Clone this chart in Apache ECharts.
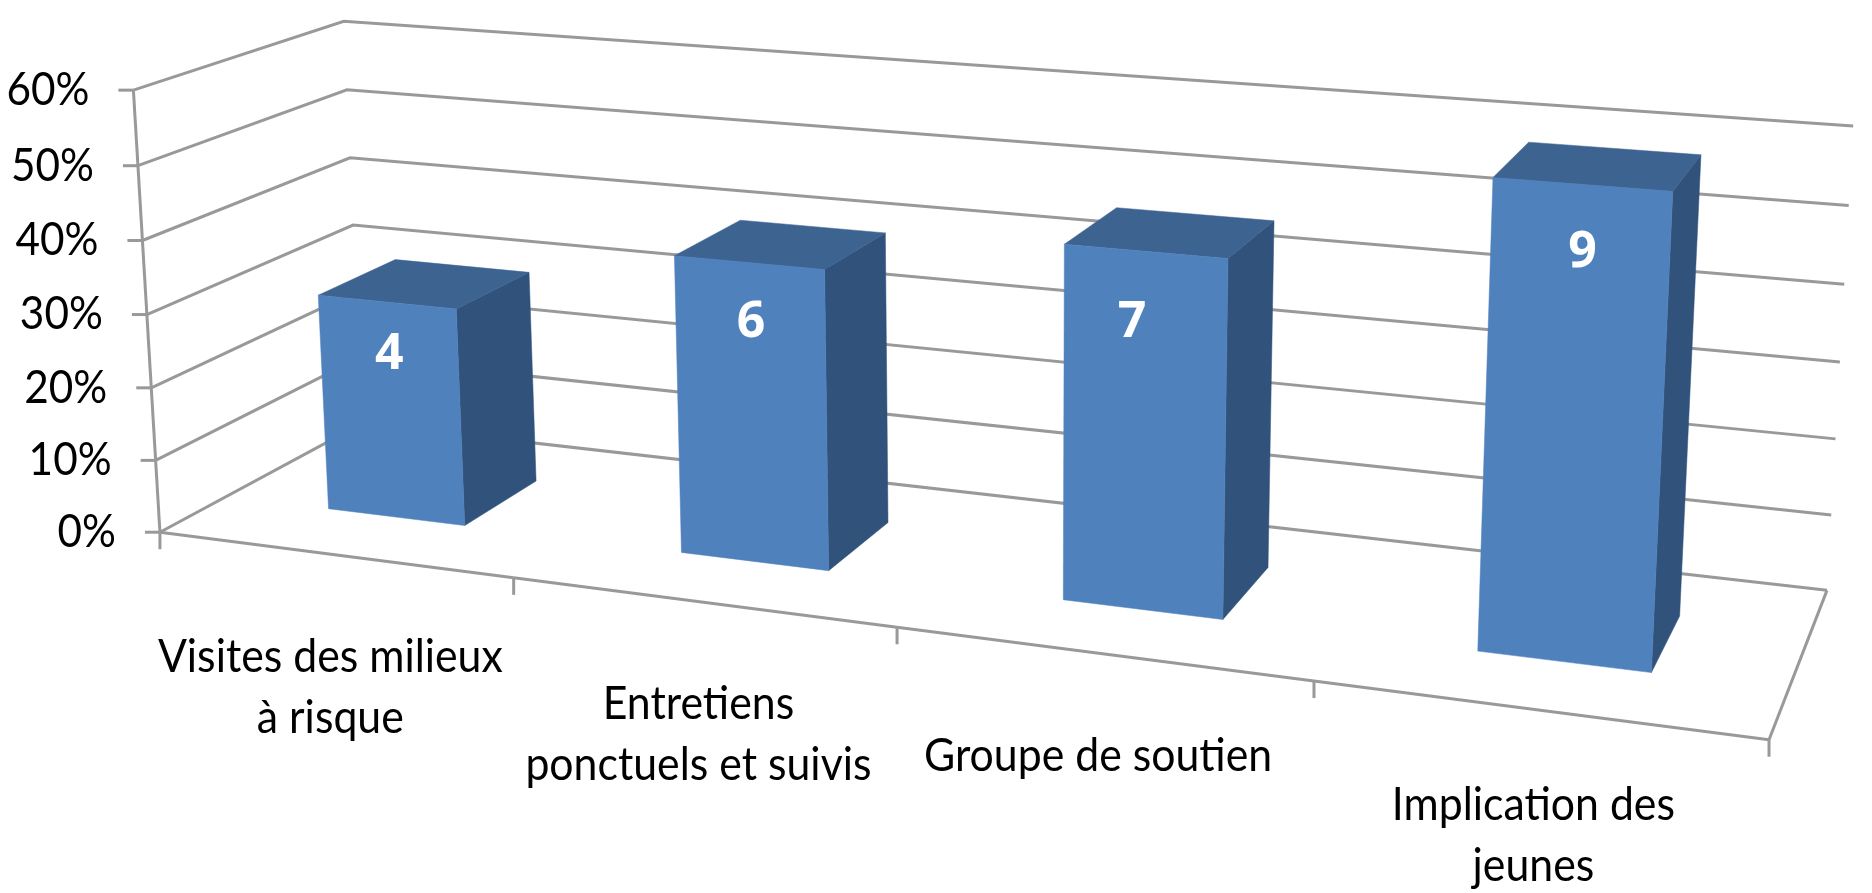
<!DOCTYPE html>
<html>
<head>
<meta charset="utf-8">
<title>Graphique</title>
<script src="https://cdn.jsdelivr.net/npm/echarts@6/dist/echarts.min.js"></script>
<style>
html, body { margin: 0; padding: 0; background: #fff; }
#main { width: 1872px; height: 893px; }
</style>
</head>
<body>
<div id="main"></div>
<script>
// donnees
var categories = ['Visites des milieux\nà risque', 'Entretiens\nponctuels et suivis', 'Groupe de soutien', 'Implication des\njeunes'];
var barPercents = [30, 40, 46, 58.5];
var barCounts = ['4', '6', '7', '9'];
var yTicks = [0, 10, 20, 30, 40, 50, 60];

// reperes de la boite 3D : [u, v, z, x ecran, y ecran], z=0 devant, z=1 au fond
var framePoints = [
    [0, 0, 0, 159, 530], [0.25, 0, 0, 512, 577], [0.5, 0, 0, 898, 627], [0.75, 0, 0, 1314, 687], [1, 0, 0, 1769, 737],
    [0, 1, 0, 135, 91], [0, 0.5, 0, 147, 314],
    [0, 0, 1, 364, 426], [1, 0, 1, 1826, 589],
    [0, 1, 1, 342, 21], [0, 0.5, 1, 353, 224],
    [1, 1, 1, 1853, 127], [1, 0.5, 1, 1841, 361]
];
var barRatio = 0.395, barFront = 0.31, barBack = 0.7;
var countShift = [[0, -5], [1, -1], [-13, 8], [3, 1]];
var categoryShift = [0, 0, 0, -7];
var lineColor = '#999999', frontColor = '#4F81BD', topColor = '#3D6391', sideColor = '#31527A';
var labelFont = 'Lato, "Liberation Sans", sans-serif';

// moindres carres pour la projection perspective (11 coefficients)
function fitProjection(points) {
    var n = 11, A = [], i, j, k;
    for (i = 0; i < n; i++) {
        A.push([]);
        for (j = 0; j <= n; j++) A[i].push(0);
    }
    function addRow(row, rhs) {
        for (var a = 0; a < n; a++) {
            for (var b = 0; b < n; b++) A[a][b] += row[a] * row[b];
            A[a][n] += row[a] * rhs;
        }
    }
    points.forEach(function (p) {
        var X = p[3] / 1000, Y = p[4] / 1000;
        addRow([p[0], p[1], p[2], 1, 0, 0, 0, 0, -X * p[0], -X * p[1], -X * p[2]], X);
        addRow([0, 0, 0, 0, p[0], p[1], p[2], 1, -Y * p[0], -Y * p[1], -Y * p[2]], Y);
    });
    for (i = 0; i < n; i++) {
        var best = i;
        for (k = i + 1; k < n; k++) if (Math.abs(A[k][i]) > Math.abs(A[best][i])) best = k;
        var tmp = A[i]; A[i] = A[best]; A[best] = tmp;
        for (k = 0; k < n; k++) {
            if (k === i) continue;
            var f = A[k][i] / A[i][i];
            for (j = i; j <= n; j++) A[k][j] -= f * A[i][j];
        }
    }
    var c = [];
    for (i = 0; i < n; i++) c.push(A[i][n] / A[i][i]);
    return c;
}
var proj = fitProjection(framePoints);

function project(u, v, z) {
    var w = proj[8] * u + proj[9] * v + proj[10] * z + 1;
    return [
        1000 * (proj[0] * u + proj[1] * v + proj[2] * z + proj[3]) / w,
        1000 * (proj[4] * u + proj[5] * v + proj[6] * z + proj[7]) / w
    ];
}

// position plate de l'axe -> u, v
function flat(params, api, cat, val) {
    var c = api.coord([cat, val]), s = params.coordSys;
    return [(c[0] - s.x) / s.width, 1 - (c[1] - s.y) / s.height];
}

function poly(points, color) {
    return { type: 'polygon', shape: { points: points }, style: { fill: color, stroke: color, lineWidth: 0.5 } };
}

function line(points) {
    return { type: 'polyline', shape: { points: points }, style: { fill: null, stroke: lineColor, lineWidth: 3 } };
}

// texte resserre horizontalement autour de son point d'ancrage
function narrowText(text, x, y, squash, align, valign, lineHeight) {
    return {
        type: 'text',
        x: x,
        y: y,
        scaleX: squash,
        style: {
            text: text, x: 0, y: 0, align: align, verticalAlign: valign,
            fill: '#000', fontSize: 46, lineHeight: lineHeight, fontFamily: labelFont
        }
    };
}

function renderWall(params, api) {
    var tick = api.value(1), v = flat(params, api, 0, tick)[1], p = project(0, v, 0);
    return {
        type: 'group',
        children: [
            line([p, project(0, v, 1), project(1, v, 1)]),
            line([[p[0] - 15, p[1]], p]),
            narrowText(tick + '%', p[0] - 44, p[1], 0.92, 'right', 'middle', 46)
        ]
    };
}

function renderFloor(params, api) {
    var i = api.value(0), p = flat(params, api, i, 0);
    var half = api.size([1, 0])[0] / params.coordSys.width / 2;
    var left = project(p[0] - half, 0, 0), right = project(p[0] + half, 0, 0), mid = project(p[0], 0, 0);
    var children = [
        line([left, right]),
        line([right, [right[0], right[1] + 17]]),
        narrowText(categories[i], mid[0] - 3, mid[1] + 72 + categoryShift[i], 0.93, 'center', 'top', 61)
    ];
    if (i === 0) {
        children.push(line([left, [left[0], left[1] + 17]]));
        children.push(line([project(0, 0, 0), project(0, 1, 0)]));
    }
    if (i === categories.length - 1) {
        children.push(line([project(1, 0, 0), project(1, 0, 1)]));
    }
    return { type: 'group', children: children };
}

function renderBar(params, api) {
    var i = api.value(0), val = api.value(1), p = flat(params, api, i, val);
    var half = api.size([1, 0])[0] / params.coordSys.width * barRatio / 2;
    var c = p[0], l = c - half, r = c + half, t = p[1];
    var label = project(c, t - 8 / 60, barFront);
    return {
        type: 'group',
        children: [
            poly([project(r, 0, barFront), project(r, 0, barBack), project(r, t, barBack), project(r, t, barFront)], sideColor),
            poly([project(l, t, barFront), project(l, t, barBack), project(r, t, barBack), project(r, t, barFront)], topColor),
            poly([project(l, 0, barFront), project(r, 0, barFront), project(r, t, barFront), project(l, t, barFront)], frontColor),
            {
                type: 'text',
                style: {
                    text: barCounts[i], x: label[0] + countShift[i][0], y: label[1] + countShift[i][1],
                    align: 'center', verticalAlign: 'middle',
                    fill: '#fff', fontSize: 50, fontWeight: 'bold', fontFamily: '"Noto Sans", sans-serif'
                }
            }
        ]
    };
}

var myChart = echarts.init(document.getElementById('main'));

var option = {
    animation: false,
    backgroundColor: '#fff',
    grid: { left: 0, right: 0, top: 0, bottom: 0 },
    xAxis: { type: 'category', data: categories, show: false },
    yAxis: { type: 'value', min: 0, max: 60, interval: 10, show: false },
    series: [
        {
            name: 'mur',
            type: 'custom',
            renderItem: renderWall,
            encode: { x: 0, y: 1 },
            data: yTicks.map(function (t) { return [0, t]; })
        },
        {
            name: 'sol',
            type: 'custom',
            renderItem: renderFloor,
            encode: { x: 0, y: 1 },
            data: categories.map(function (c, i) { return [i, 0]; })
        },
        {
            name: 'barres',
            type: 'custom',
            renderItem: renderBar,
            encode: { x: 0, y: 1 },
            data: barPercents.map(function (v, i) { return [i, v]; })
        }
    ]
};

myChart.setOption(option);
</script>
</body>
</html>
